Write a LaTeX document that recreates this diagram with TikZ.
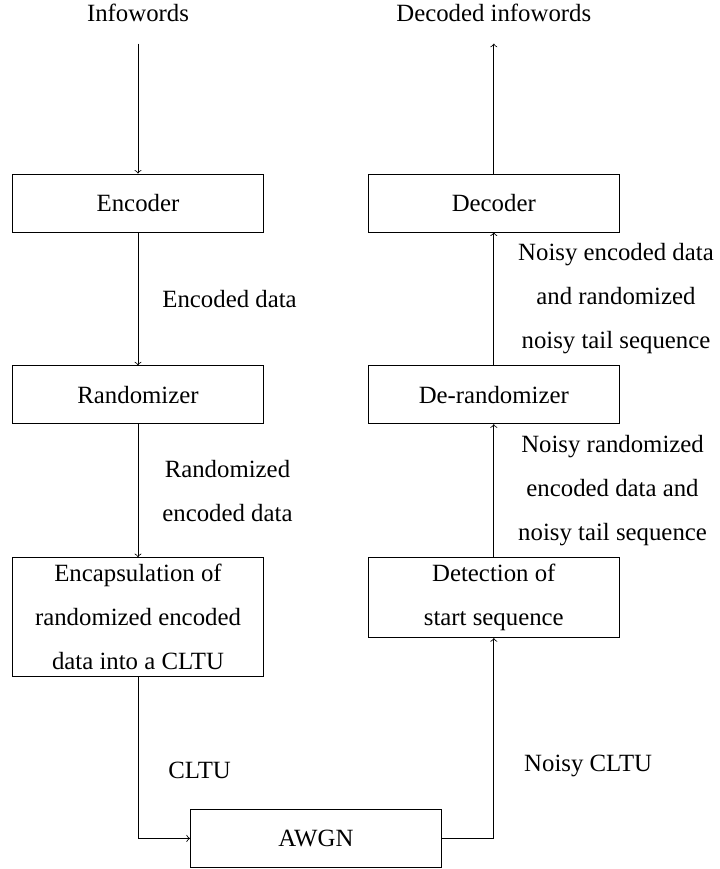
\documentclass[tikz,border=0pt]{standalone}
\usepackage{fontspec}
\setmainfont{Liberation Serif}
\usetikzlibrary{positioning}
\usetikzlibrary{calc}
\tikzset{
	->,
	every node/.style={align=center, font=\fontsize{12.4}{22}\selectfont},
	block/.style={rectangle, draw, minimum width=125.5pt, minimum height=29pt},
	io/.style={inner ysep=10.5pt},
	lbl/.style={right, inner xsep=12pt}
}

\begin{document}
\begin{tikzpicture}[node distance = 66.5pt and 52pt]
	\useasboundingbox (0,0) rectangle (359.5pt,-434.5pt);
	% Sender side
	\node (enc) [block] at (69pt,-101.5pt) {Encoder};
	\node (ran) [block, below = of enc] {Randomizer};
	\node (encap) [block, below = of ran] {Encapsulation of\\randomized encoded\\data into a CLTU};
	% Receiver side
	\node (dec) [block, right = of enc] {Decoder};
	\node (derand) [block, below = of dec] {De-randomizer};
	\node (detect) [block, below = of derand] {Detection of\\start sequence};
	% Channel
	\coordinate (mid) at ($(encap.south)!0.5!(encap.south -| detect.south)$);
	\node (awgn) [block, below = 66pt of mid] {AWGN};
	% Titles
	\node (info) [io, above = 65pt of enc] {Infowords};
	\node (decinfo) [io, above = 65pt of dec] {Decoded infowords};

	\draw (info) -- (enc);
	\draw (enc) -- node[lbl] {Encoded data} (ran);
	\draw (ran) -- node[lbl] {Randomized\\encoded data} (encap);
	\draw (encap) |- node[lbl, pos=0.29, xshift=3pt] {CLTU} (awgn);
	\draw (awgn) -| node[lbl, pos=0.68, xshift=3pt] {Noisy CLTU} (detect);
	\draw (detect) -- node[lbl] {Noisy randomized\\encoded data and\\noisy tail sequence} (derand);
	\draw (derand) -- node[lbl] {Noisy encoded data\\and randomized\\noisy tail sequence} (dec);
	\draw (dec) -- (decinfo);
\end{tikzpicture}
\end{document}
